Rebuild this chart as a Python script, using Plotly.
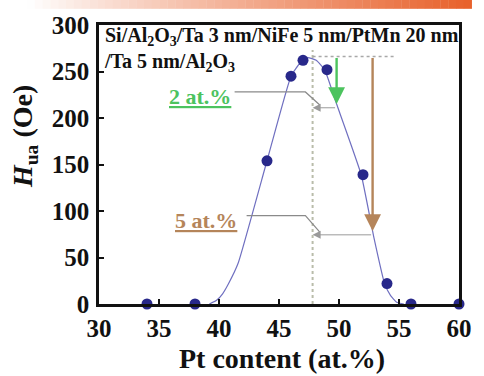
import numpy as np
import plotly.graph_objects as go

# Measured uniaxial anisotropy field vs Pt content
pt_content = [34, 38, 44, 46, 47, 49, 52, 54, 56, 60]
h_ua = [0, 0, 154, 245, 262, 252, 139, 22, 0, 0]

# Guide curve through the measurements
fit_pt = [39.2, 39.8, 40.3, 40.8, 41.6, 44.0, 46.0, 46.8, 47.4, 48.1, 48.8, 49.8, 51.85,
          52.9, 53.8, 54.3, 54.8, 55.4]
fit_h = [0, 4, 11, 22, 44, 154, 245, 260, 265, 262, 252, 215, 139,
         72, 22, 9, 2, 0]

# Peak position and composition shifts marked on the curve
peak_pt = 47.8
peak_level = 266
shifts = [2, 5]
shift_labels = ["2 at.%", "5 at.%"]
shift_colors = ["#4cc35e", "#b5855a"]
label_pos = [(38.4, 223), (38.9, 90)]
leader_start = [41.3, 42.3]

x_ticks = [30, 35, 40, 45, 50, 55, 60]
y_ticks = [0, 50, 100, 150, 200, 250, 300]

SERIF = "Liberation Serif, DejaVu Serif"

fig = go.Figure()

fig.add_trace(go.Scatter(
    x=fit_pt, y=fit_h, mode="lines",
    line=dict(color="#6f6fc0", width=1.2, shape="spline", smoothing=0.4),
    hoverinfo="skip", showlegend=False,
))
fig.add_trace(go.Scatter(
    x=pt_content, y=h_ua, mode="markers",
    marker=dict(color="#28288a", size=11),
    cliponaxis=False, showlegend=False,
))

shapes = [
    dict(type="line", xref="x", yref="y", x0=peak_pt, x1=peak_pt, y0=0, y1=273,
         line=dict(color="#b9bcaa", width=2, dash="dot")),
    dict(type="line", xref="x", yref="y", x0=peak_pt, x1=peak_pt + 7, y0=peak_level, y1=peak_level,
         line=dict(color="#a8a8a8", width=1.5, dash="dot")),
]

annotations = []
for shift, label, color, (lx, ly), ls in zip(shifts, shift_labels, shift_colors, label_pos, leader_start):
    tip_x = peak_pt + shift
    tip_y = float(np.interp(tip_x, fit_pt, fit_h))
    # vertical drop from the peak level to the curve
    annotations.append(dict(
        x=tip_x, y=tip_y, ax=tip_x, ay=peak_level, xref="x", yref="y", axref="x", ayref="y",
        text="", showarrow=True, arrowhead=2, arrowsize=1.4, arrowwidth=2.4, arrowcolor=color,
    ))
    # horizontal shift back to the peak position
    annotations.append(dict(
        x=peak_pt, y=tip_y - 4, ax=tip_x, ay=tip_y - 4, xref="x", yref="y", axref="x", ayref="y",
        text="", showarrow=True, arrowhead=2, arrowsize=1.6, arrowwidth=1, arrowcolor="#9a9a9a",
    ))
    # leader from the label
    lead_y = ly + 5
    shapes.append(dict(type="path", xref="x", yref="y",
                       path=f"M {ls},{lead_y} L {peak_pt - 0.6},{lead_y} L {peak_pt + 0.6},{tip_y - 1}",
                       line=dict(color="#8a8a8a", width=1.2)))
    annotations.append(dict(
        x=lx, y=ly, xref="x", yref="y", text=f"<u>{label}</u>", showarrow=False,
        font=dict(family=SERIF, size=22, color=color, weight="bold"),
    ))

# stack description
annotations.append(dict(
    x=0.008, y=0.912, xref="paper", yref="paper", xanchor="left", yanchor="middle", align="left",
    text="Si/Al<sub>2</sub>O<sub>3</sub>/Ta 3 nm/NiFe 5 nm/PtMn 20 nm<br>/Ta 5 nm/Al<sub>2</sub>O<sub>3</sub>",
    showarrow=False,
    font=dict(family=SERIF, size=20, color="#111", weight="bold"),
))

# axis titles
annotations.append(dict(
    x=0.509, y=-0.195, xref="paper", yref="paper", xanchor="center", yanchor="middle",
    text="Pt content (at.%)", showarrow=False,
    font=dict(family=SERIF, size=28, color="#111", weight="bold"),
))
annotations.append(dict(
    x=-0.207, y=0.6, xref="paper", yref="paper", xanchor="center", yanchor="middle",
    text="<i>H</i><sub>ua</sub> (Oe)", textangle=-90,
    showarrow=False, font=dict(family=SERIF, size=28, color="#111", weight="bold"),
))

# decorative band along the top edge
n_band = 60
x_left, x_right = -0.265, 1.035
for i in range(n_band):
    t = i / (n_band - 1)
    a = max(0.0, min(1.0, (t - 0.05) / 0.95)) ** 0.9
    r = int(255 + (232 - 255) * a)
    g = int(255 + (98 - 255) * a)
    b = int(255 + (44 - 255) * a)
    x0 = x_left + (x_right - x_left) * i / n_band
    x1 = x_left + (x_right - x_left) * (i + 1) / n_band
    shapes.append(dict(type="rect", xref="paper", yref="paper", x0=x0, x1=x1 + 0.001,
                       y0=1.058, y1=1.095, line=dict(width=0), fillcolor=f"rgb({r},{g},{b})",
                       layer="below"))

axis_common = dict(
    showgrid=False, zeroline=False, ticks="inside", ticklen=5, tickwidth=1.5, tickcolor="#111",
    showline=True, linecolor="#111", linewidth=2.5, mirror=True,
    tickfont=dict(family=SERIF, size=25, color="#111", weight="bold"),
)

fig.update_layout(
    width=484, height=376,
    margin=dict(l=99, r=12, t=25, b=72),
    paper_bgcolor="white", plot_bgcolor="white",
    font=dict(family=SERIF),
    xaxis=dict(range=[30, 60], tickvals=x_ticks, ticklabelstandoff=0, **axis_common),
    yaxis=dict(range=[0, 300], tickvals=y_ticks, ticklabelstandoff=2, **axis_common),
    shapes=shapes, annotations=annotations, showlegend=False,
)

fig.write_html("out.html")
